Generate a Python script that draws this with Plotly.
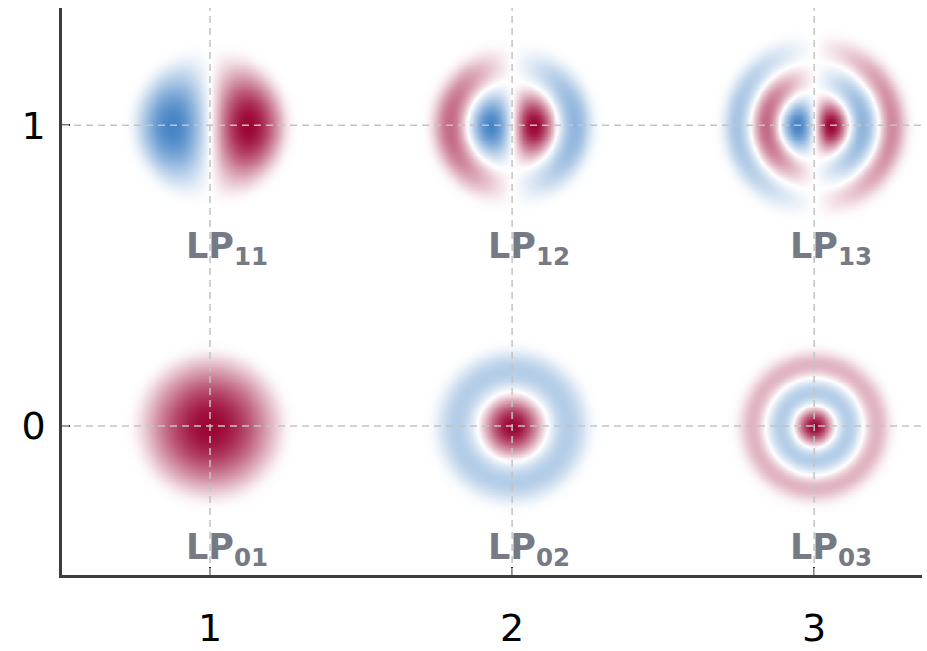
import numpy as np
import plotly.graph_objects as go

# ---- data ----
mode_l = [0, 0, 0, 1, 1, 1]          # azimuthal index (row)
mode_m = [1, 2, 3, 1, 2, 3]          # radial index (column)
px = 1 / 302.0                       # one pixel in axis units
# radial wavenumber of each mode (per axis unit), read from ring radii in the picture
mode_k = [2.405 / (78 * px), 2.405 / (35 * px), 5.52 / (49 * px),
          1.841 / (38 * px), 3.832 / (45 * px), 7.016 / (64 * px)]
blur_sigma = 5.5 * px
x_ticks = [1, 2, 3]
y_ticks = [0, 1]
x_ticklabels = ["1", "2", "3"]
y_ticklabels = ["0", "1"]
bessel_zeros = {0: [2.4048, 5.5201, 8.6537], 1: [3.8317, 7.0156, 10.1735]}

tau = np.linspace(0, np.pi, 241)
def besselj(nu, x):
    xf = x.ravel()[:, None]
    vals = np.trapezoid(np.cos(nu * tau[None, :] - xf * np.sin(tau[None, :])), tau, axis=1) / np.pi
    return vals.reshape(x.shape)

def blur(z, sigma):
    rad = int(np.ceil(3 * sigma))
    t = np.arange(-rad, rad + 1)
    kern = np.exp(-0.5 * (t / sigma) ** 2)
    kern /= kern.sum()
    z = np.apply_along_axis(lambda v: np.convolve(v, kern, mode="same"), 0, z)
    z = np.apply_along_axis(lambda v: np.convolve(v, kern, mode="same"), 1, z)
    return z

half = 0.44
n = 181
step = 2 * half / (n - 1)
fig = go.Figure()
cscale = [[0.0, "rgb(70,132,198)"], [0.5, "rgb(255,255,255)"], [1.0, "rgb(155,5,52)"]]
for l, m, k in zip(mode_l, mode_m, mode_k):
    xs = np.linspace(-half, half, n)
    ys = np.linspace(-half, half, n)
    X, Y = np.meshgrid(xs, ys)
    r = np.hypot(X, Y)
    phi = np.arctan2(Y, X)
    r_edge = bessel_zeros[l][m - 1] / k
    u = np.where(r < r_edge, besselj(l, k * r), 0.0) * np.cos(l * phi)
    u = blur(u, blur_sigma / step)
    u = u / np.abs(u).max()
    fig.add_trace(go.Heatmap(x=xs + m, y=ys + l, z=u, zmin=-1, zmax=1,
                             colorscale=cscale, showscale=False, zsmooth="best",
                             hoverinfo="skip"))
    fig.add_annotation(x=m, y=l - 0.41, text=f"<b>LP<sub>{l}{m}</sub></b>",
                       showarrow=False, xshift=17,
                       font=dict(family="DejaVu Sans", size=35, color="rgb(118,122,132)"))

shapes = []
for xv in x_ticks:
    shapes.append(dict(type="line", xref="x", yref="paper", x0=xv, x1=xv, y0=0, y1=1,
                       line=dict(color="rgb(195,195,195)", width=1.5, dash="7px,5px"), layer="above"))
for yv in y_ticks:
    shapes.append(dict(type="line", xref="paper", yref="y", x0=0, x1=1, y0=yv, y1=yv,
                       line=dict(color="rgb(195,195,195)", width=1.5, dash="7px,5px"), layer="above"))
fig.update_layout(shapes=shapes)

fig.update_layout(
    width=927, height=651,
    margin=dict(l=62, r=5, t=8, b=76),
    paper_bgcolor="white", plot_bgcolor="white",
    showlegend=False,
    xaxis=dict(range=[0.51, 3.357], tickvals=x_ticks, ticktext=x_ticklabels, automargin=False,
               showgrid=False, zeroline=False, showline=True, linecolor="rgb(60,60,60)",
               linewidth=2.5, ticks="inside", ticklen=8, tickwidth=2, tickcolor="rgb(40,40,40)",
               ticklabelstandoff=18,
               tickfont=dict(family="DejaVu Sans", size=38, color="black")),
    yaxis=dict(range=[-0.495, 1.39], tickvals=y_ticks, ticktext=y_ticklabels, automargin=False,
               showgrid=False, zeroline=False, showline=True, linecolor="rgb(60,60,60)",
               linewidth=2.5, ticks="inside", ticklen=8, tickwidth=2, tickcolor="rgb(40,40,40)",
               ticklabelstandoff=6,
               tickfont=dict(family="DejaVu Sans", size=38, color="black")),
)
fig.write_html("out.html")
